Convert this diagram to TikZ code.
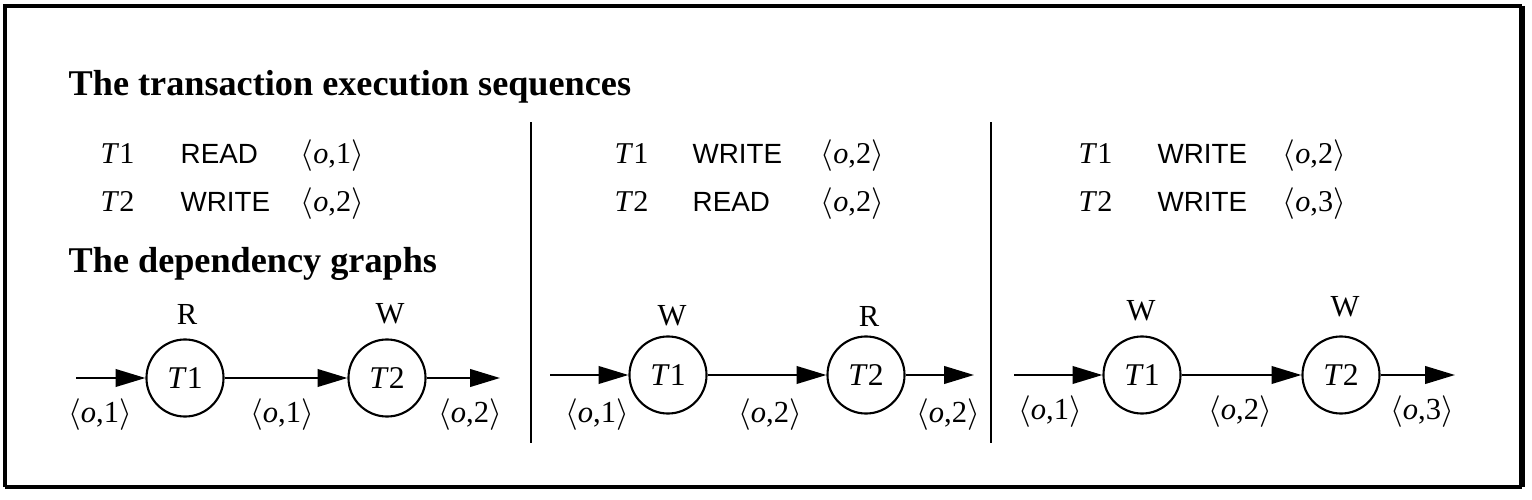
\documentclass[tikz,border=0pt]{standalone}
\usepackage{fontspec}
\setmainfont{Liberation Serif}
\setsansfont{Liberation Sans}
\usetikzlibrary{arrows.meta}
\newcommand{\pr}[2]{$\langle$\textit{#1},#2$\rangle$}
\newcommand{\tn}[1]{\textit{T}#1}
\begin{document}
\begin{tikzpicture}[x=0.01cm,y=-0.01cm,
  hdr/.style={anchor=base west, font=\fontsize{10.3}{12}\selectfont\bfseries, inner sep=0},
  seq/.style={anchor=base west, font=\fontsize{8.6}{10}\selectfont, inner sep=0},
  op/.style={anchor=base west, font=\fontsize{7.9}{9}\selectfont\sffamily, inner sep=0},
  txn/.style={circle, draw, line width=0.6pt, minimum size=0.77cm, inner sep=0, font=\fontsize{9}{10}\selectfont},
  lbl/.style={font=\fontsize{8.7}{10}\selectfont, inner sep=0},
  arr/.style={-{Triangle[length=8.5pt,width=5pt]}, line width=0.6pt},
  sepline/.style={line width=0.6pt},
  frame/.style={line width=0.9pt}]
\useasboundingbox (0,0) rectangle (1532,500);
% frame
\coordinate (f1) at (5,6);
\coordinate (f2) at (1522,6);
\coordinate (f3) at (1522,487);
\coordinate (f4) at (5,487);
\draw[frame] (f4) -- (f1) -- (f2);
\draw[line width=1.2pt] (f4) -- (f3);
\draw[line width=1.5pt] (f2) -- (f3);
% separators
\coordinate (s1a) at (531,122); \coordinate (s1b) at (531,443);
\coordinate (s2a) at (991,122); \coordinate (s2b) at (991,443);
\draw[sepline] (s1a) -- (s1b);
\draw[sepline] (s2a) -- (s2b);
% headers
\node[hdr] (h1) at (68,96) {The transaction execution sequences};
\node[hdr] (h2) at (68,272) {The dependency graphs};
% panel 1 sequences
\node[seq] (a11) at (100,163) {\tn{1}};
\node[op]  (a12) at (180,163) {READ};
\node[seq] (a13) at (300,163) {\pr{o}{1}};
\node[seq] (a21) at (100,212) {\tn{2}};
\node[op]  (a22) at (180,212) {WRITE};
\node[seq] (a23) at (300,212) {\pr{o}{2}};
% panel 2 sequences
\node[seq] (b11) at (614,163) {\tn{1}};
\node[op]  (b12) at (692,163) {WRITE};
\node[seq] (b13) at (820,163) {\pr{o}{2}};
\node[seq] (b21) at (614,212) {\tn{2}};
\node[op]  (b22) at (692,212) {READ};
\node[seq] (b23) at (820,212) {\pr{o}{2}};
% panel 3 sequences
\node[seq] (c11) at (1078,163) {\tn{1}};
\node[op]  (c12) at (1157,163) {WRITE};
\node[seq] (c13) at (1282,163) {\pr{o}{2}};
\node[seq] (c21) at (1078,212) {\tn{2}};
\node[op]  (c22) at (1157,212) {WRITE};
\node[seq] (c23) at (1282,212) {\pr{o}{3}};
% panel 1 graph
\node[txn] (p1t1) at (185,378) {\tn{1}};
\node[txn] (p1t2) at (387,378) {\tn{2}};
\node[lbl] (p1r) at (187,314) {R};
\node[lbl] (p1w) at (390,314) {W};
\coordinate (p1in) at (76,378);
\coordinate (p1out) at (500,378);
\draw[arr] (p1in) -- (p1t1);
\draw[arr] (p1t1) -- (p1t2);
\draw[arr] (p1t2) -- (p1out);
\node[lbl] (p1l1) at (100,415) {\pr{o}{1}};
\node[lbl] (p1l2) at (282,415) {\pr{o}{1}};
\node[lbl] (p1l3) at (470,415) {\pr{o}{2}};
% panel 2 graph
\node[txn] (p2t1) at (668,375) {\tn{1}};
\node[txn] (p2t2) at (866,375) {\tn{2}};
\node[lbl] (p2w) at (672,316) {W};
\node[lbl] (p2r) at (869,316) {R};
\coordinate (p2in) at (550,375);
\coordinate (p2out) at (974,375);
\draw[arr] (p2in) -- (p2t1);
\draw[arr] (p2t1) -- (p2t2);
\draw[arr] (p2t2) -- (p2out);
\node[lbl] (p2l1) at (597,415) {\pr{o}{1}};
\node[lbl] (p2l2) at (770,415) {\pr{o}{2}};
\node[lbl] (p2l3) at (948,415) {\pr{o}{2}};
% panel 3 graph
\node[txn] (p3t1) at (1142,375) {\tn{1}};
\node[txn] (p3t2) at (1341,375) {\tn{2}};
\node[lbl] (p3w1) at (1141,311) {W};
\node[lbl] (p3w2) at (1345,307) {W};
\coordinate (p3in) at (1014,375);
\coordinate (p3out) at (1455,375);
\draw[arr] (p3in) -- (p3t1);
\draw[arr] (p3t1) -- (p3t2);
\draw[arr] (p3t2) -- (p3out);
\node[lbl] (p3l1) at (1050,412) {\pr{o}{1}};
\node[lbl] (p3l2) at (1240,412) {\pr{o}{2}};
\node[lbl] (p3l3) at (1422,412) {\pr{o}{3}};
\end{tikzpicture}
\end{document}
